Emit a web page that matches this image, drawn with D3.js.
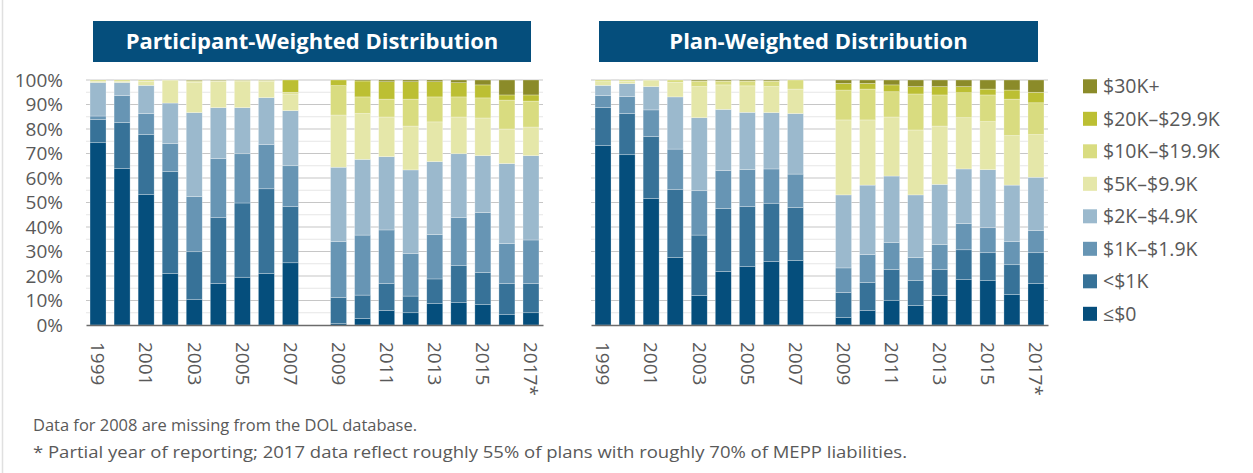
<!DOCTYPE html>
<head>
    <meta charset="utf-8">
    <title>Distribution</title>
    <script src="https://d3js.org/d3.v7.min.js"></script>
</head>
<body>
<div id="graph"></div>

<script>
    // years on the x axis (2008 has no data)
    var years = [1999, 2000, 2001, 2002, 2003, 2004, 2005, 2006, 2007, 2008,
                 2009, 2010, 2011, 2012, 2013, 2014, 2015, 2016, 2017];
    var labelYears = [1999, 2001, 2003, 2005, 2007, 2009, 2011, 2013, 2015, 2017];
    var brackets = ["≤$0", "<$1K", "$1K–$1.9K", "$2K–$4.9K", "$5K–$9.9K",
                    "$10K–$19.9K", "$20K–$29.9K", "$30K+"];
    var colors = ["#054e7c", "#377298", "#6795b4", "#9bb9cd", "#e5e7a9",
                  "#d9dc80", "#bcbf33", "#8b8b29"];
    var yTicks = [0, 10, 20, 30, 40, 50, 60, 70, 80, 90, 100];

    // share (%) of each bracket, one row per year, in bracket order
    var participantRows = [
        [74.4, 9.5, 1.4, 13.7, 0.5, 0.5, 0, 0],
        [63.8, 18.8, 11.0, 5.4, 0.5, 0.5, 0, 0],
        [53.2, 24.5, 8.6, 11.5, 1.7, 0.5, 0, 0],
        [21.1, 41.5, 11.4, 16.6, 9.2, 0.2, 0, 0],
        [10.5, 19.4, 22.5, 34.3, 12.3, 0.5, 0.2, 0.3],
        [17.0, 26.8, 24.1, 20.8, 10.8, 0.2, 0.1, 0.2],
        [19.5, 30.3, 20.1, 18.8, 10.9, 0.2, 0.1, 0.1],
        [21.1, 34.5, 18.1, 19.1, 6.6, 0.3, 0.2, 0.1],
        [25.4, 22.9, 16.7, 22.5, 6.8, 0.7, 5.0, 0],
        null,
        [0.7, 10.5, 22.8, 30.4, 21.3, 12.0, 2.3, 0],
        [2.6, 9.6, 24.5, 30.9, 18.7, 6.8, 6.5, 0.4],
        [5.9, 11.1, 21.8, 29.9, 16.2, 7.3, 7.1, 0.7],
        [5.0, 6.8, 17.3, 34.2, 17.9, 11.0, 7.1, 0.7],
        [8.7, 10.1, 18.1, 29.8, 16.2, 10.2, 6.2, 0.7],
        [9.1, 15.1, 19.6, 26.1, 15.0, 8.2, 5.8, 1.1],
        [8.3, 13.2, 24.4, 23.2, 15.4, 8.2, 5.3, 2.0],
        [4.2, 12.8, 16.2, 32.7, 14.1, 11.8, 2.1, 6.1],
        [5.0, 12.0, 17.7, 34.4, 11.7, 10.6, 2.5, 6.1]
    ];

    var planRows = [
        [73.2, 15.5, 4.9, 4.2, 1.5, 0.7, 0, 0],
        [69.5, 16.8, 6.9, 5.3, 1.0, 0.5, 0, 0],
        [51.7, 25.2, 10.9, 9.5, 2.5, 0.2, 0, 0],
        [27.5, 27.9, 16.4, 21.3, 5.9, 1.0, 0, 0],
        [12.0, 24.7, 18.1, 29.8, 12.7, 2.0, 0.3, 0.4],
        [21.9, 25.7, 15.4, 25.0, 10.0, 1.3, 0.3, 0.4],
        [23.8, 24.5, 15.1, 23.4, 10.8, 1.7, 0.3, 0.4],
        [25.9, 23.8, 14.0, 23.0, 10.6, 2.0, 0.3, 0.4],
        [26.3, 21.7, 13.6, 24.7, 10.0, 3.7, 0, 0],
        null,
        [3.0, 10.3, 10.0, 29.8, 30.6, 12.2, 2.7, 1.4],
        [6.0, 11.4, 11.4, 28.3, 26.6, 12.6, 2.3, 1.4],
        [10.1, 12.6, 10.9, 27.2, 24.1, 10.3, 2.8, 2.0],
        [8.0, 10.1, 9.4, 25.6, 26.5, 14.7, 3.0, 2.7],
        [12.0, 10.6, 10.2, 24.6, 23.8, 12.7, 3.4, 2.7],
        [18.5, 12.2, 10.7, 22.3, 20.9, 10.2, 2.5, 2.7],
        [18.1, 11.4, 10.2, 23.7, 19.6, 10.9, 2.4, 3.7],
        [12.4, 12.2, 9.4, 23.1, 20.2, 14.9, 3.7, 4.1],
        [16.9, 12.6, 9.0, 21.8, 17.4, 13.0, 4.3, 5.0]
    ];

    var width = 1253, height = 473;
    var font = "'Open Sans', sans-serif";
    var textGray = "#595959";

    var svg = d3.select("#graph")
        .append("svg")
            .attr("width", width)
            .attr("height", height)
            .style("display", "block");

    // faint frame edge on the left
    svg.append("line")
        .attr("x1", 2.5).attr("x2", 2.5)
        .attr("y1", 0).attr("y2", height)
        .attr("stroke", "#e0e0e0")
        .attr("stroke-width", 1.5);

    var y = d3.scaleLinear()
        .domain([0, 100])
        .range([325, 80]);

    var panels = [
        {title: "Participant-Weighted Distribution", rows: participantRows, x0: 86, x1: 543, bx: 93, bw: 438, axis: true},
        {title: "Plan-Weighted Distribution", rows: planRows, x0: 591, x1: 1048, bx: 599, bw: 439, axis: false}
    ];

    panels.forEach(function(p) {
        var g = svg.append("g");

        // title banner
        g.append("rect")
            .attr("x", p.bx).attr("y", 21)
            .attr("width", p.bw).attr("height", 41)
            .attr("fill", "#054e7c");
        g.append("text")
            .attr("x", p.bx + p.bw / 2)
            .attr("y", 41.5)
            .attr("dy", "0.35em")
            .attr("text-anchor", "middle")
            .attr("fill", "#ffffff")
            .style("font-family", font)
            .style("font-weight", "bold")
            .style("font-size", "22px")
            .text(p.title);

        var x = d3.scaleBand()
            .domain(years)
            .range([p.x0, p.x1])
            .paddingInner(0.335)
            .paddingOuter(0.1675);

        // gridlines every 5%, a bit darker on the 10s
        g.selectAll(".grid")
            .data(d3.range(5, 101, 5))
            .enter()
            .append("line")
                .attr("x1", p.x0).attr("x2", p.x1)
                .attr("y1", function(d) { return y(d); })
                .attr("y2", function(d) { return y(d); })
                .attr("stroke", function(d) { return d % 10 == 0 ? "#c6c6c6" : "#e6e6e6"; })
                .attr("stroke-width", 1.2);

        // stacked bars
        var segs = [];
        p.rows.forEach(function(row, i) {
            if (!row) return;
            var base = 0;
            row.forEach(function(v, k) {
                segs.push({year: years[i], k: k, y0: base, y1: base + v});
                base += v;
            });
        });

        g.selectAll(".seg")
            .data(segs.filter(function(d) { return d.y1 > d.y0; }))
            .enter()
            .append("rect")
                .attr("x", function(d) { return x(d.year); })
                .attr("y", function(d) { return y(d.y1); })
                .attr("width", x.bandwidth())
                .attr("height", function(d) { return y(d.y0) - y(d.y1); })
                .attr("fill", function(d) { return colors[d.k]; })
                .attr("stroke", "#ffffff")
                .attr("stroke-opacity", 0.45)
                .attr("stroke-width", 0.6);

        // x axis with rotated year labels
        var xAxis = d3.axisBottom(x)
            .tickValues(labelYears)
            .tickSize(0)
            .tickSizeOuter(0)
            .tickFormat(function(d) { return d == 2017 ? "2017*" : d; });

        var xg = g.append("g")
            .attr("transform", "translate(0," + y(0) + ")")
            .call(xAxis);
        xg.select(".domain").attr("stroke", "#6b6b6b").attr("stroke-width", 1.6);
        xg.selectAll("text")
            .attr("transform", "rotate(90)")
            .attr("x", 17)
            .attr("y", 0)
            .attr("dy", "0.35em")
            .style("text-anchor", "start")
            .style("font-family", font)
            .style("font-size", "19px")
            .attr("fill", textGray);

        if (p.axis) {
            var yAxis = d3.axisLeft(y)
                .tickValues(yTicks)
                .tickSize(0)
                .tickPadding(23)
                .tickFormat(function(d) { return d + "%"; });
            var yg = g.append("g")
                .attr("transform", "translate(" + p.x0 + ",0)")
                .call(yAxis);
            yg.select(".domain").remove();
            yg.selectAll("text")
                .style("font-family", font)
                .style("font-size", "19px")
                .attr("fill", textGray);
        }
    });

    // legend, top bracket first
    var legend = svg.append("g");
    var order = d3.range(brackets.length).reverse();
    order.forEach(function(k, j) {
        var cy = 86.3 + j * 32.5;
        legend.append("rect")
            .attr("x", 1083).attr("y", cy - 7)
            .attr("width", 14).attr("height", 14)
            .attr("fill", colors[k]);
        legend.append("text")
            .attr("x", 1103).attr("y", cy)
            .attr("dy", "0.35em")
            .attr("fill", textGray)
            .style("font-family", font)
            .style("font-size", "19.5px")
            .text(brackets[k]);
    });

    // footnotes
    var notes = [
        {text: "Data for 2008 are missing from the DOL database.", y: 431, len: 384},
        {text: "* Partial year of reporting; 2017 data reflect roughly 55% of plans with roughly 70% of MEPP liabilities.", y: 458, len: 874}
    ];
    svg.selectAll(".note")
        .data(notes)
        .enter()
        .append("text")
            .attr("x", 33)
            .attr("y", function(d) { return d.y; })
            .attr("textLength", function(d) { return d.len; })
            .attr("lengthAdjust", "spacingAndGlyphs")
            .attr("fill", textGray)
            .style("font-family", font)
            .style("font-size", "16px")
            .text(function(d) { return d.text; });
</script>
<style>
    html, body {
        margin: 0;
        padding: 0;
        background: #ffffff;
    }
</style>
</body>
